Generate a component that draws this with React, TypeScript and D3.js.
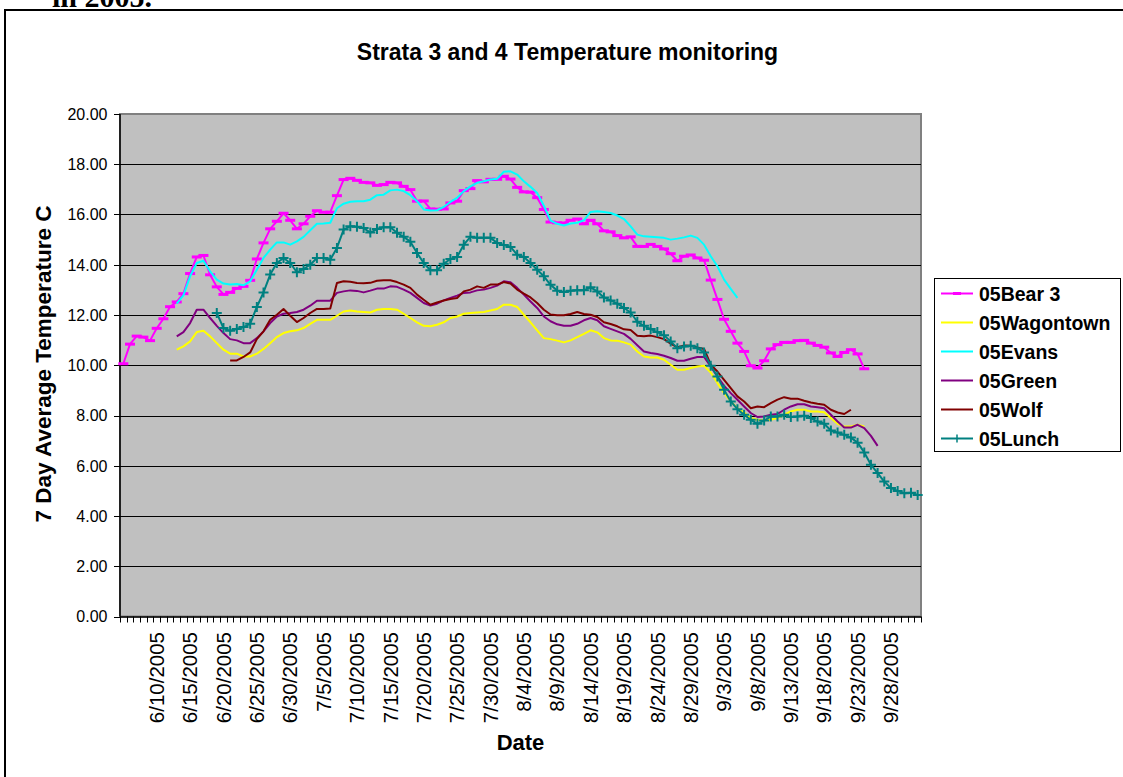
import * as d3 from 'd3';
import React, {useRef, useEffect} from 'react';

// daily categories 6/5/2005 .. 10/2/2005
const firstDay = new Date(2005, 5, 5);
const lastDay = new Date(2005, 9, 3);

const dateTickLabels = ["6/10/2005", "6/15/2005", "6/20/2005", "6/25/2005", "6/30/2005", "7/5/2005",
  "7/10/2005", "7/15/2005", "7/20/2005", "7/25/2005", "7/30/2005", "8/4/2005", "8/9/2005",
  "8/14/2005", "8/19/2005", "8/24/2005", "8/29/2005", "9/3/2005", "9/8/2005", "9/13/2005",
  "9/18/2005", "9/23/2005", "9/28/2005"];

const yTicks = [0, 2, 4, 6, 8, 10, 12, 14, 16, 18, 20];

// 05Bear 3, from 6/5
const bear3 = [10.06, 10.84, 11.16, 11.12, 10.98, 11.47, 11.85, 12.33, 12.52, 12.85,
  13.65, 14.31, 14.37, 13.60, 13.12, 12.82, 12.90, 13.06, 13.14, 13.38,
  14.23, 14.87, 15.43, 15.73, 16.05, 15.77, 15.43, 15.63, 15.93, 16.15,
  16.09, 16.09, 16.75, 17.39, 17.44, 17.36, 17.28, 17.26, 17.16, 17.19,
  17.28, 17.26, 17.12, 16.99, 16.53, 16.54, 16.22, 16.21, 16.22, 16.46,
  16.53, 16.95, 17.03, 17.35, 17.30, 17.40, 17.40, 17.52, 17.41, 17.08,
  16.90, 16.89, 16.67, 16.20, 15.70, 15.67, 15.66, 15.77, 15.82, 15.63,
  15.77, 15.63, 15.35, 15.31, 15.16, 15.07, 15.11, 14.73, 14.73, 14.81,
  14.73, 14.63, 14.44, 14.16, 14.34, 14.39, 14.27, 14.18, 13.39, 12.62,
  11.83, 11.35, 10.88, 10.55, 9.98, 9.89, 10.18, 10.65, 10.82, 10.91,
  10.91, 10.98, 10.99, 10.88, 10.79, 10.72, 10.49, 10.35, 10.51, 10.62,
  10.45, 9.86];

// 05Wagontown, from 6/13
const wagontown = [10.62, 10.75, 10.95, 11.32, 11.37, 11.15, 10.88, 10.62, 10.46, 10.46,
  10.35, 10.35, 10.46, 10.65, 10.88, 11.12, 11.28, 11.35, 11.39, 11.48,
  11.65, 11.81, 11.81, 11.81, 11.97, 12.14, 12.18, 12.14, 12.12, 12.10,
  12.21, 12.24, 12.24, 12.21, 12.05, 11.88, 11.71, 11.57, 11.55, 11.61,
  11.71, 11.88, 11.94, 12.05, 12.08, 12.10, 12.12, 12.18, 12.24, 12.41,
  12.41, 12.32, 12.01, 11.71, 11.39, 11.08, 11.04, 10.98, 10.91, 10.99,
  11.12, 11.25, 11.39, 11.31, 11.08, 10.99, 10.98, 10.91, 10.82, 10.55,
  10.35, 10.31, 10.31, 10.22, 10.02, 9.82, 9.82, 9.89, 9.95, 9.98,
  9.71, 9.29, 8.89, 8.56, 8.29, 8.12, 7.90, 7.83, 7.80, 7.83,
  7.90, 8.03, 8.16, 8.23, 8.23, 8.16, 8.16, 8.13, 7.90, 7.67,
  7.56, 7.56, 7.63, 7.56];

// 05Evans, from 6/13
const evans = [12.45, 12.78, 13.54, 14.07, 14.16, 13.74, 13.41, 13.25, 13.21, 13.23,
  13.18, 13.34, 13.80, 14.27, 14.60, 14.89, 14.89, 14.80, 14.93, 15.11,
  15.37, 15.63, 15.64, 15.67, 16.25, 16.43, 16.51, 16.53, 16.53, 16.59,
  16.77, 16.79, 16.96, 16.99, 16.93, 16.77, 16.53, 16.20, 16.16, 16.17,
  16.30, 16.50, 16.66, 16.93, 17.12, 17.26, 17.32, 17.39, 17.42, 17.70,
  17.72, 17.59, 17.32, 17.10, 16.86, 16.35, 15.76, 15.63, 15.56, 15.64,
  15.67, 15.77, 16.10, 16.13, 16.10, 16.06, 15.96, 15.82, 15.53, 15.20,
  15.13, 15.11, 15.09, 15.07, 15.00, 15.04, 15.09, 15.16, 15.07, 14.80,
  14.34, 13.94, 13.41, 13.04, 12.68];

// 05Green, from 6/13
const green = [11.15, 11.32, 11.68, 12.21, 12.21, 11.88, 11.57, 11.28, 11.04, 10.99,
  10.88, 10.88, 11.08, 11.35, 11.68, 11.94, 12.05, 12.08, 12.12, 12.21,
  12.37, 12.57, 12.57, 12.57, 12.88, 12.94, 12.98, 12.96, 12.90, 12.97,
  13.05, 13.05, 13.14, 13.12, 13.01, 12.88, 12.68, 12.48, 12.38, 12.45,
  12.58, 12.68, 12.77, 12.88, 12.90, 12.98, 13.01, 13.08, 13.17, 13.34,
  13.30, 13.08, 12.81, 12.54, 12.28, 11.94, 11.75, 11.63, 11.57, 11.57,
  11.65, 11.79, 11.88, 11.79, 11.55, 11.45, 11.35, 11.25, 11.05, 10.80,
  10.55, 10.49, 10.45, 10.38, 10.29, 10.18, 10.18, 10.26, 10.33, 10.33,
  9.95, 9.55, 9.18, 8.89, 8.63, 8.36, 8.10, 7.94, 7.96, 8.03,
  8.06, 8.23, 8.36, 8.45, 8.45, 8.36, 8.33, 8.29, 8.03, 7.76,
  7.52, 7.52, 7.63, 7.50, 7.19, 6.79];

// 05Wolf, from 6/21
const wolf = [10.19, 10.19, 10.33, 10.51, 11.04, 11.35, 11.81, 12.01, 12.24, 11.97,
  11.72, 11.88, 12.08, 12.24, 12.24, 12.26, 13.27, 13.34, 13.32, 13.27,
  13.26, 13.28, 13.36, 13.38, 13.38, 13.31, 13.21, 13.08, 12.81, 12.61,
  12.41, 12.50, 12.58, 12.64, 12.68, 12.94, 13.01, 13.14, 13.08, 13.21,
  13.21, 13.31, 13.25, 13.01, 12.85, 12.70, 12.48, 12.21, 12.02, 11.99,
  11.99, 12.04, 12.12, 12.04, 12.01, 11.92, 11.71, 11.64, 11.55, 11.43,
  11.40, 11.17, 11.15, 11.18, 11.12, 11.04, 10.86, 10.71, 10.79, 10.78,
  10.71, 10.65, 10.02, 9.75, 9.42, 9.09, 8.76, 8.56, 8.29, 8.36,
  8.33, 8.49, 8.63, 8.73, 8.67, 8.67, 8.59, 8.52, 8.47, 8.43,
  8.23, 8.12, 8.06, 8.23];

// 05Lunch, from 6/19
const lunch = [12.08, 11.48, 11.37, 11.44, 11.52, 11.65, 12.32, 12.90, 13.61, 14.07,
  14.27, 14.07, 13.70, 13.83, 14.00, 14.27, 14.27, 14.20, 14.67, 15.40,
  15.53, 15.51, 15.46, 15.28, 15.42, 15.49, 15.49, 15.27, 15.11, 14.92,
  14.47, 14.07, 13.78, 13.78, 14.04, 14.23, 14.31, 14.80, 15.11, 15.07,
  15.07, 15.07, 14.87, 14.79, 14.71, 14.40, 14.31, 14.07, 13.80, 13.54,
  13.20, 12.97, 12.92, 12.97, 12.99, 12.99, 13.10, 12.94, 12.70, 12.58,
  12.45, 12.28, 12.10, 11.73, 11.57, 11.44, 11.32, 11.19, 10.95, 10.68,
  10.75, 10.78, 10.68, 10.51, 9.98, 9.55, 9.02, 8.56, 8.25, 8.03,
  7.83, 7.67, 7.80, 7.96, 7.96, 8.03, 7.94, 7.96, 7.99, 7.90,
  7.76, 7.67, 7.40, 7.32, 7.23, 7.12, 6.92, 6.53, 6.04, 5.71,
  5.37, 5.11, 5.00, 4.91, 4.93, 4.84];

const seriesNames = ["05Bear 3", "05Wagontown", "05Evans", "05Green", "05Wolf", "05Lunch"];
const seriesStarts = ["6/5/2005", "6/13/2005", "6/13/2005", "6/13/2005", "6/21/2005", "6/19/2005"];
const seriesValues = [bear3, wagontown, evans, green, wolf, lunch];
const seriesColors = ["#FF00FF", "#FFFF00", "#00FFFF", "#800080", "#800000", "#008080"];
const seriesMarkers = ["dash", null, null, null, null, "plus"];

const fmtDate = d => `${d.getMonth() + 1}/${d.getDate()}/${d.getFullYear()}`;

function App() {
  const ref = useRef(null);

  useEffect(() => {
    const svg = d3.select(ref.current);
    svg.selectAll("*").remove();

    const plot = {left: 120, right: 921, top: 114, bottom: 616.5};
    const days = d3.timeDay.range(firstDay, lastDay).map(fmtDate);

    const x = d3.scaleBand().domain(days).range([plot.left, plot.right]).padding(0);
    const cx = d => x(d) + x.bandwidth() / 2;
    const y = d3.scaleLinear().domain([0, 20]).range([plot.bottom, plot.top]);

    const sans = "'Liberation Sans', Arial, sans-serif";

    // text of the page above, cut off
    svg.append("text").attr("x", 52).attr("y", 7)
      .style("font-family", "'Liberation Serif', 'Times New Roman', serif")
      .style("font-weight", "bold").style("font-size", "30px")
      .text("in 2005.");

    // chart border
    svg.append("rect").attr("x", 5).attr("y", 10).attr("width", 1130).attr("height", 800)
      .attr("fill", "#fff").attr("stroke", "#000").attr("stroke-width", 2);

    svg.append("text").attr("x", 567.5).attr("y", 60).attr("text-anchor", "middle")
      .style("font-family", sans).style("font-weight", "bold").style("font-size", "23px")
      .text("Strata 3 and 4 Temperature monitoring");

    // plot area
    svg.append("rect").attr("x", plot.left).attr("y", plot.top)
      .attr("width", plot.right - plot.left).attr("height", plot.bottom - plot.top)
      .attr("fill", "#C0C0C0").attr("stroke", "#808080").attr("stroke-width", 2);

    svg.append("g").selectAll("line").data(yTicks.filter(t => t > 0 && t < 20)).enter()
      .append("line")
      .attr("x1", plot.left).attr("x2", plot.right)
      .attr("y1", d => Math.round(y(d)) + 0.5).attr("y2", d => Math.round(y(d)) + 0.5)
      .attr("stroke", "#000").attr("stroke-width", 1);

    // y axis
    svg.append("line").attr("x1", plot.left).attr("x2", plot.left)
      .attr("y1", plot.top).attr("y2", plot.bottom).attr("stroke", "#000").attr("stroke-width", 1.5);
    svg.append("g").selectAll("line").data(yTicks).enter().append("line")
      .attr("x1", plot.left - 6).attr("x2", plot.left)
      .attr("y1", d => Math.round(y(d)) + 0.5).attr("y2", d => Math.round(y(d)) + 0.5)
      .attr("stroke", "#000");
    svg.append("g").selectAll("text").data(yTicks).enter().append("text")
      .attr("x", 107.5).attr("y", d => y(d)).attr("dy", "0.36em").attr("text-anchor", "end")
      .style("font-family", sans).style("font-size", "16px")
      .text(d => d3.format(".2f")(d));

    // x axis
    svg.append("line").attr("x1", plot.left).attr("x2", plot.right)
      .attr("y1", plot.bottom + 0.5).attr("y2", plot.bottom + 0.5).attr("stroke", "#000").attr("stroke-width", 1.5);
    svg.append("g").selectAll("line").data(days.concat(["end"])).enter().append("line")
      .attr("x1", (d, i) => Math.round(plot.left + i * x.bandwidth()) + 0.5)
      .attr("x2", (d, i) => Math.round(plot.left + i * x.bandwidth()) + 0.5)
      .attr("y1", plot.bottom).attr("y2", plot.bottom + 6)
      .attr("stroke", "#000");
    svg.append("g").selectAll("text").data(dateTickLabels).enter().append("text")
      .attr("transform", d => `translate(${cx(d)},632) rotate(-90)`)
      .attr("dy", "0.35em").attr("text-anchor", "end")
      .style("font-family", sans).style("font-size", "20.5px")
      .text(d => d);

    svg.append("text").attr("x", (plot.left + plot.right) / 2).attr("y", 750)
      .attr("text-anchor", "middle")
      .style("font-family", sans).style("font-weight", "bold").style("font-size", "22px")
      .text("Date");
    svg.append("text").attr("transform", "translate(51,364) rotate(-90)")
      .attr("text-anchor", "middle")
      .style("font-family", sans).style("font-weight", "bold").style("font-size", "22.5px")
      .text("7 Day Average Temperature C");

    // series
    const line = d3.line().x(d => cx(d.day)).y(d => y(d.v));
    seriesNames.forEach((name, s) => {
      const start = days.indexOf(seriesStarts[s]);
      const pts = seriesValues[s].map((v, i) => ({day: days[start + i], v}));
      const g = svg.append("g");
      g.append("path").datum(pts).attr("d", line)
        .attr("fill", "none").attr("stroke", seriesColors[s]).attr("stroke-width", 2)
        .attr("stroke-linejoin", "round");
      if (seriesMarkers[s] === "dash") {
        g.selectAll("rect").data(pts).enter().append("rect")
          .attr("x", d => cx(d.day) - 5).attr("y", d => y(d.v) - 1.5)
          .attr("width", 10).attr("height", 3).attr("fill", seriesColors[s]);
      } else if (seriesMarkers[s] === "plus") {
        g.selectAll("path.m").data(pts).enter().append("path").attr("class", "m")
          .attr("d", d => `M${cx(d.day) - 5},${y(d.v)}h10M${cx(d.day)},${y(d.v) - 5}v10`)
          .attr("stroke", seriesColors[s]).attr("stroke-width", 2);
      }
    });

    // legend
    const lg = svg.append("g");
    lg.append("rect").attr("x", 934.5).attr("y", 278.5).attr("width", 186).attr("height", 173)
      .attr("fill", "#fff").attr("stroke", "#000").attr("stroke-width", 1);
    seriesNames.forEach((name, s) => {
      const ly = 293.5 + s * 29;
      lg.append("line").attr("x1", 941).attr("x2", 973).attr("y1", ly).attr("y2", ly)
        .attr("stroke", seriesColors[s]).attr("stroke-width", 2);
      if (seriesMarkers[s] === "dash") {
        lg.append("rect").attr("x", 953).attr("y", ly - 1.5).attr("width", 8).attr("height", 3)
          .attr("fill", seriesColors[s]);
      } else if (seriesMarkers[s] === "plus") {
        lg.append("path").attr("d", `M957,${ly - 4}v8`).attr("stroke", seriesColors[s]).attr("stroke-width", 1.5);
      }
      lg.append("text").attr("x", 979).attr("y", ly).attr("dy", "0.36em")
        .style("font-family", sans).style("font-weight", "bold").style("font-size", "19.5px")
        .text(name);
    });
  }, []);

  return (
    <div className="chart">
      <svg ref={ref} width={1123} height={777}
        style={{position: "absolute", left: 0, top: 0, background: "#fff"}}>
      </svg>
    </div>
  );
}

export default App;
